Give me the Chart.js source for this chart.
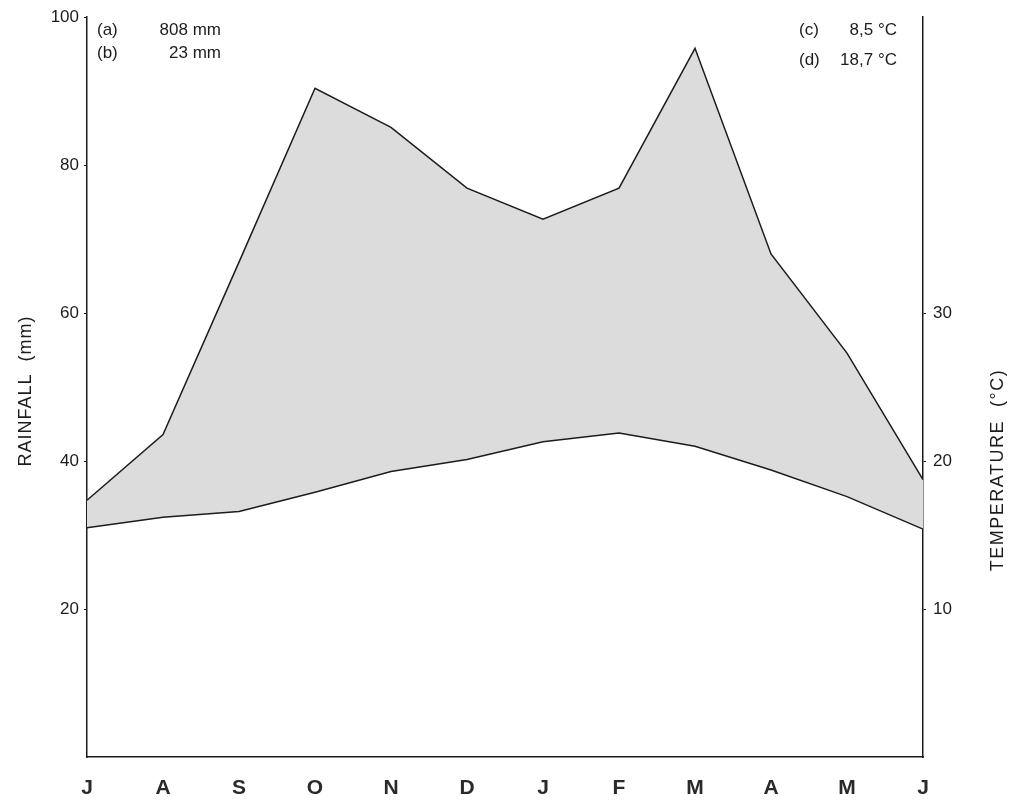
<!DOCTYPE html>
<html>
<head>
<meta charset="utf-8">
<title>Rainfall and temperature</title>
<script src="https://cdn.jsdelivr.net/npm/chart.js@4"></script>
<style>
  html, body { margin: 0; padding: 0; background: #fff; }
  #wrap { width: 1016px; height: 802px; position: relative; }
</style>
</head>
<body>
<div id="wrap"><canvas id="climChart"></canvas></div>
<script>
'use strict'

// months from July to June
const months = ['J', 'A', 'S', 'O', 'N', 'D', 'J', 'F', 'M', 'A', 'M', 'J'];
const rainfall = [34.7, 43.6, 66.9, 90.4, 85.1, 76.9, 72.7, 76.9, 95.8, 68.0, 54.6, 37.5];
const temperature = [15.5, 16.2, 16.6, 17.9, 19.3, 20.1, 21.3, 21.9, 21.0, 19.4, 17.6, 15.4];
const rainTicks = [20, 40, 60, 80, 100];
const tempTicks = [10, 20, 30];
const notesLeft = [['(a)', '808 mm'], ['(b)', '23 mm']];
const notesRight = [['(c)', '8,5 °C'], ['(d)', '18,7 °C']];

const ink = '#1c1c1c';
const fontFam = '"Liberation Sans", "DejaVu Sans", sans-serif';

// axis titles and the summary notes
const textPlugin = {
    id: 'textPlugin',
    afterDraw(chart) {
        const ctx = chart.ctx;
        ctx.save();
        ctx.fillStyle = ink;
        ctx.font = '17px ' + fontFam;
        ctx.textBaseline = 'middle';

        notesLeft.forEach((n, i) => {
            const y = 30 + i * 23;
            ctx.textAlign = 'left';
            ctx.fillText(n[0], 97, y);
            ctx.textAlign = 'right';
            ctx.fillText(n[1], 221, y);
        });
        notesRight.forEach((n, i) => {
            const y = 30 + i * 30;
            ctx.textAlign = 'left';
            ctx.fillText(n[0], 799, y);
            ctx.textAlign = 'right';
            ctx.fillText(n[1], 897, y);
        });

        ctx.textAlign = 'center';
        ctx.font = '18px ' + fontFam;
        ctx.letterSpacing = '1px';
        ctx.translate(26, 391);
        ctx.rotate(-Math.PI / 2);
        ctx.fillText('RAINFALL  (mm)', 0, 0);
        ctx.restore();

        ctx.save();
        ctx.fillStyle = ink;
        ctx.font = '18px ' + fontFam;
        ctx.letterSpacing = '1.5px';
        ctx.textAlign = 'center';
        ctx.textBaseline = 'middle';
        ctx.translate(998, 470);
        ctx.rotate(-Math.PI / 2);
        ctx.fillText('TEMPERATURE  (°C)', 0, 0);
        ctx.restore();
    }
};

const ctx = document.getElementById('climChart').getContext('2d');
const climChart = new Chart(ctx, {
    type: 'line',
    data: {
        labels: months,
        datasets: [{
            label: 'Rainfall',
            data: rainfall,
            yAxisID: 'y',
            order: 1,
            borderColor: ink,
            borderWidth: 1.5,
            backgroundColor: '#dcdcdc',
            fill: 1,
            pointRadius: 0,
            tension: 0
        }, {
            label: 'Temperature',
            data: temperature,
            yAxisID: 'y1',
            order: 0,
            borderColor: ink,
            borderWidth: 1.5,
            fill: false,
            pointRadius: 0,
            tension: 0
        }]
    },
    options: {
        responsive: true,
        maintainAspectRatio: false,
        animation: false,
        layout: { padding: { top: 17, left: 0, right: 0, bottom: 0 } },
        plugins: {
            legend: { display: false },
            tooltip: { enabled: false }
        },
        scales: {
            x: {
                offset: false,
                grid: { display: false, drawTicks: false },
                border: { display: true, color: ink, width: 1.5 },
                ticks: {
                    color: '#2a2a2a',
                    font: { family: fontFam, size: 21, weight: 'bold' },
                    padding: 19,
                    maxRotation: 0,
                    autoSkip: false
                },
                afterFit(scale) { scale.height = 45; }
            },
            y: {
                position: 'left',
                min: 0,
                max: 100,
                afterBuildTicks(scale) { scale.ticks = rainTicks.map(v => ({ value: v })); },
                grid: { drawOnChartArea: false, drawTicks: true, tickLength: 3, color: ink },
                border: { display: true, color: ink, width: 1.5 },
                ticks: {
                    color: ink,
                    font: { family: fontFam, size: 17 },
                    padding: 5
                },
                afterFit(scale) { scale.width = 87; }
            },
            y1: {
                position: 'right',
                min: 0,
                max: 50,
                afterBuildTicks(scale) { scale.ticks = tempTicks.map(v => ({ value: v })); },
                grid: { drawOnChartArea: false, drawTicks: true, tickLength: 3, color: ink },
                border: { display: true, color: ink, width: 1.5 },
                ticks: {
                    color: ink,
                    font: { family: fontFam, size: 17 },
                    padding: 7
                },
                afterFit(scale) { scale.width = 93; }
            }
        }
    },
    plugins: [textPlugin]
});
</script>
</body>
</html>
